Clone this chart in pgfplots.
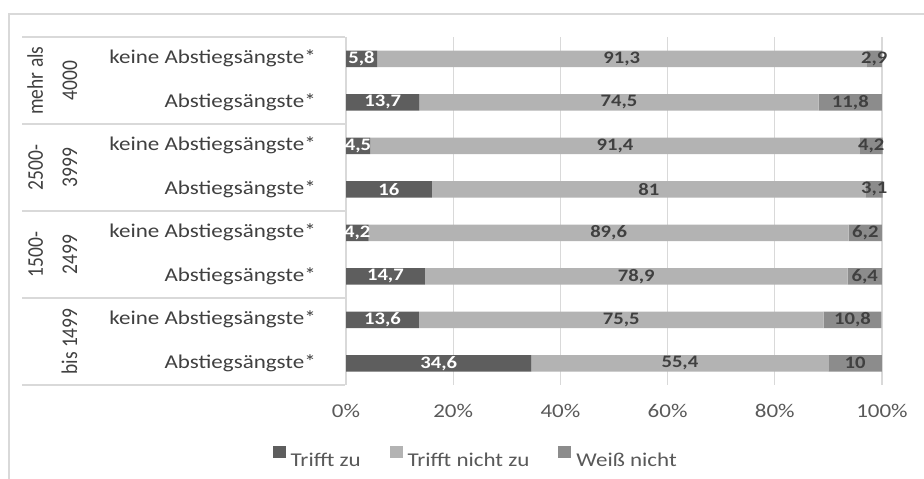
\documentclass[border=0pt]{standalone}
\usepackage{pgfplots}
\pgfplotsset{compat=1.18}
\usepackage{pgfplotstable}
\usepackage{fontspec}
\usepackage{graphicx}
\setmainfont{Carlito}[FakeStretch=1.18]
\newfontfamily\rotfont{Carlito}

\definecolor{ctz}{HTML}{5E5E5E}
\definecolor{ctnz}{HTML}{B3B3B3}
\definecolor{cwn}{HTML}{8C8C8C}
\definecolor{labelgray}{HTML}{404040}
\definecolor{tickgray}{HTML}{595959}
\definecolor{gridgray}{HTML}{D9D9D9}

% Zeilen von oben nach unten
\pgfplotstableread{
row tz   tnz  wn
1   5.8  91.3 2.9
2   13.7 74.5 11.8
3   4.5  91.4 4.2
4   16   81   3.1
5   4.2  89.6 6.2
6   14.7 78.9 6.4
7   13.6 75.5 10.8
8   34.6 55.4 10
}\daten

\pgfplotsset{
  /pgf/number format/.cd, use comma, fixed, precision=1, assume math mode=true,
  /pgfplots/.cd,
  seg/.style={
    draw=none, fill=#1, point meta=explicit, nodes near coords,
    nodes near coords style={anchor=center, inner sep=0pt,
      font=\bfseries\fontsize{17.5}{18}\selectfont},
  },
}

\begin{document}
\begin{tikzpicture}
\useasboundingbox (0pt,0pt) rectangle (924pt,479pt);
\fill[white] (0pt,0pt) rectangle (924pt,479pt);
% Rahmen
\draw[gridgray, line width=2pt] (9pt,-5pt) -- (9pt,465pt) -- (930pt,465pt);
% Trennlinien der Gruppen
\foreach \yy in {442,355,268,181,94}
  \draw[gridgray, line width=1.2pt] (22pt,\yy pt) -- (345pt,\yy pt);
% Gruppenbeschriftungen
\begin{scope}[every node/.style={rotate=90, anchor=base, inner sep=0pt,
    text=labelgray, font=\rotfont\fontsize{19.5}{20}\selectfont}]
  \node at (43pt,398.5pt) {\scalebox{1}[1.15]{mehr als}};
  \node at (77pt,398.5pt) {\scalebox{1}[1.15]{4000}};
  \node at (43pt,311.5pt) {\scalebox{1}[1.15]{2500-}};
  \node at (77pt,311.5pt) {\scalebox{1}[1.15]{3999}};
  \node at (43pt,224.5pt) {\scalebox{1}[1.15]{1500-}};
  \node at (77pt,224.5pt) {\scalebox{1}[1.15]{2499}};
  \node at (77pt,137.5pt) {\scalebox{1}[1.15]{bis 1499}};
\end{scope}

\begin{axis}[
  at={(346pt,94pt)}, anchor=south west,
  scale only axis, width=536.5pt, height=348pt,
  xbar stacked, bar width=16.5pt,
  xmin=0, xmax=100.1, ymin=0.5, ymax=8.5, y dir=reverse,
  axis line style={draw=none},
  major tick length=0pt,
  xtick={0,20,...,100},
  xticklabels={0\%,20\%,40\%,60\%,80\%,100\%},
  xmajorgrids, major grid style={draw=gridgray, line width=1.2pt},
  ytick={1,...,8},
  yticklabels={keine Abstiegsängste*, Abstiegsängste*,
               keine Abstiegsängste*, Abstiegsängste*,
               keine Abstiegsängste*, Abstiegsängste*,
               keine Abstiegsängste*, Abstiegsängste*},
  xticklabel style={font=\fontsize{19.5}{20}\selectfont, text=tickgray,
                    anchor=center, inner sep=0pt, yshift=-25.5pt},
  yticklabel style={font=\fontsize{19.5}{20}\selectfont, text=labelgray,
                    anchor=east, inner sep=0pt, xshift=-30pt},
  legend style={at={(0.24,-0.207)}, anchor=center, draw=none, fill=none,
    legend columns=-1, font=\fontsize{19.5}{20}\selectfont, text=tickgray,
    nodes={inner sep=0pt},
    /tikz/every odd column/.append style={column sep=5pt},
    /tikz/every even column/.append style={column sep=29pt}},
  legend image code/.code={\fill[#1] (0pt,2.5pt) rectangle (13pt,15pt);},
]
\addplot[seg=ctz, nodes near coords style={text=white}]
  table[x=tz, y=row, meta=tz]{\daten};
\addplot[seg=ctnz, nodes near coords style={text=labelgray}]
  table[x=tnz, y=row, meta=tnz]{\daten};
\addplot[seg=cwn, nodes near coords style={text=labelgray}]
  table[x=wn, y=row, meta=wn]{\daten};
\legend{Trifft zu, Trifft nicht zu, Weiß nicht}
\end{axis}
\end{tikzpicture}
\end{document}
